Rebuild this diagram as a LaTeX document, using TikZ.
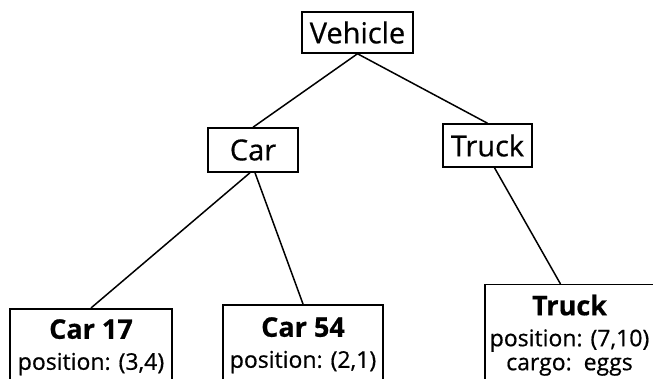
\documentclass[tikz,border=0pt]{standalone}
\usepackage{fontspec}
\setmainfont{Open Sans}[RawFeature={embolden=0.6}]
\usetikzlibrary{positioning}

\newcommand{\objname}[1]{{\fontsize{27}{30}\selectfont\bfseries #1}}

\begin{document}
\begin{tikzpicture}[x=1pt,y=-1pt,
  cls/.style={draw,line width=1.5pt,inner sep=0pt,font=\fontsize{29}{30}\selectfont},
  obj/.style={draw,line width=1.5pt,inner sep=0pt,align=center,anchor=north,
              font=\fontsize{23}{26}\selectfont},
  link/.style={line width=1.5pt}
]
  \useasboundingbox (0,0) rectangle (653,379);
  \clip (0,0) rectangle (653,379);

  % Classes: Vehicle on top, Car and Truck below it
  \node[cls,minimum width=111pt,minimum height=41pt] (vehicle) at (357.5,32.5) {Vehicle};
  \node[cls,minimum width=90pt,minimum height=44pt]  (car)     at (253,150)    {Car};
  \node[cls,minimum width=89pt,minimum height=43pt]  (truck)   at (487.5,145.5) {Truck};

  % Instances, cut off by the bottom edge
  \node[obj,minimum width=162pt,minimum height=77pt]  (car17)   at (91,308)  {\objname{Car 17}\\[5pt] position: (3,4)};
  \node[obj,minimum width=160pt,minimum height=81pt]  (car54)   at (303,304) {\objname{Car 54}\\[5pt] position: (2,1)};
  \node[obj,minimum width=169pt,minimum height=101pt] (truckobj) at (569.5,284) {\objname{Truck}\\[5pt] position: (7,10)\\[-2pt] cargo:\ \ eggs};

  % Links
  \draw[link] (vehicle.south) -- (car.north);
  \draw[link] (vehicle.south) -- (truck.north);
  \draw[link] ([xshift=-3pt]car.south) -- (car17.north);
  \draw[link] ([xshift=2pt]car.south) -- (car54.north);
  \draw[link] ([xshift=7pt]truck.south) -- ([xshift=-9pt]truckobj.north);
\end{tikzpicture}
\end{document}
